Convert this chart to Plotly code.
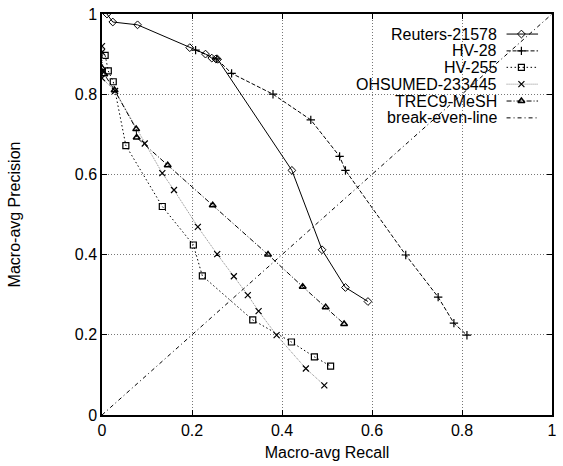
import plotly.graph_objects as go

# Macro-averaged precision/recall points per collection
reuters_recall = [0.011, 0.024, 0.079, 0.195, 0.230, 0.244, 0.253, 0.257, 0.422, 0.489, 0.541, 0.591]
reuters_prec = [1.000, 0.980, 0.973, 0.916, 0.900, 0.890, 0.888, 0.887, 0.610, 0.412, 0.318, 0.283]

hv28_recall = [0.208, 0.255, 0.288, 0.380, 0.464, 0.528, 0.541, 0.675, 0.747, 0.782, 0.811]
hv28_prec = [0.910, 0.888, 0.852, 0.800, 0.736, 0.645, 0.610, 0.399, 0.294, 0.229, 0.199]

hv255_recall = [0.007, 0.014, 0.025, 0.053, 0.134, 0.203, 0.223, 0.335, 0.421, 0.472, 0.508]
hv255_prec = [0.897, 0.858, 0.831, 0.672, 0.520, 0.424, 0.347, 0.237, 0.182, 0.145, 0.122]

ohsumed_recall = [0.000, 0.000, 0.002, 0.000, 0.029, 0.095, 0.134, 0.160, 0.213, 0.256, 0.293, 0.324, 0.348, 0.388, 0.453, 0.494]
ohsumed_prec = [0.920, 0.905, 0.857, 0.840, 0.808, 0.677, 0.603, 0.561, 0.469, 0.401, 0.346, 0.299, 0.259, 0.199, 0.116, 0.074]

trec9_recall = [0.000, 0.005, 0.028, 0.076, 0.077, 0.146, 0.246, 0.369, 0.446, 0.497, 0.538]
trec9_prec = [0.865, 0.850, 0.810, 0.713, 0.692, 0.623, 0.523, 0.400, 0.320, 0.269, 0.227]

break_even = [0.0, 1.0]

tick_vals = [0, 0.2, 0.4, 0.6, 0.8, 1]
tick_text = ["0", "0.2", "0.4", "0.6", "0.8", "1"]

FONT = "Liberation Sans, Arial, sans-serif"

series = [
    ("Reuters-21578", reuters_recall, reuters_prec,
     dict(color="black", width=1, dash="solid"),
     dict(symbol="diamond-open", size=6, color="black", line=dict(width=1, color="black"))),
    ("HV-28", hv28_recall, hv28_prec,
     dict(color="black", width=1, dash="4px,2px"),
     dict(symbol="cross-thin-open", size=6, color="black", line=dict(width=1.2, color="black"))),
    ("HV-255", hv255_recall, hv255_prec,
     dict(color="black", width=1, dash="1.5px,2.5px"),
     dict(symbol="square-open", size=6, color="black", line=dict(width=1.2, color="black"))),
    ("OHSUMED-233445", ohsumed_recall, ohsumed_prec,
     dict(color="#8a8a8a", width=1, dash="1px,1px"),
     dict(symbol="x-thin-open", size=6, color="black", line=dict(width=1.2, color="black"))),
    ("TREC9-MeSH", trec9_recall, trec9_prec,
     dict(color="black", width=1, dash="5px,2px,1px,2px"),
     dict(symbol="triangle-up-open", size=6, color="black", line=dict(width=1.5, color="#222"))),
]

fig = go.Figure()

# break-even diagonal
fig.add_trace(go.Scatter(x=break_even, y=break_even, mode="lines",
                         line=dict(color="black", width=1, dash="4px,3px,1px,3px"),
                         showlegend=False, hoverinfo="skip"))

for name, xs, ys, ln, mk in series:
    fig.add_trace(go.Scatter(x=xs, y=ys, mode="lines+markers", name=name,
                             line=ln, marker=mk, showlegend=False))

# Legend: right-aligned labels with line samples to their right
legend_names = [s[0] for s in series] + ["break-even-line"]
legend_lines = [s[3] for s in series] + [dict(color="black", width=1, dash="4px,3px,1px,3px")]
legend_marks = [s[4] for s in series] + [None]
row_y = [0.950, 0.908, 0.867, 0.825, 0.783, 0.741]
for name, ln, mk, yy in zip(legend_names, legend_lines, legend_marks, row_y):
    fig.add_trace(go.Scatter(x=[0.899, 0.969], y=[yy, yy], mode="lines", line=ln,
                             xaxis="x2", yaxis="y2", showlegend=False, hoverinfo="skip"))
    if mk is not None:
        fig.add_trace(go.Scatter(x=[0.932], y=[yy], mode="markers", marker=mk,
                                 xaxis="x2", yaxis="y2", showlegend=False, hoverinfo="skip"))
    fig.add_annotation(x=0.883, y=yy, xref="x2", yref="y2", text=name, showarrow=False,
                       xanchor="right", yanchor="middle",
                       font=dict(family=FONT, size=16, color="black"))

axis_common = dict(
    range=[0, 1], tickvals=tick_vals, ticktext=tick_text,
    showgrid=True, gridcolor="#777", griddash="1px,2px", gridwidth=1,
    zeroline=False, showline=True, linecolor="black", linewidth=1.5, mirror="ticks",
    ticks="inside", ticklen=5, tickcolor="black",
    tickfont=dict(family=FONT, size=16, color="black"),
)

fig.update_layout(
    width=563, height=466,
    margin=dict(l=102, r=6, t=12, b=51),
    paper_bgcolor="white", plot_bgcolor="white",
    xaxis=dict(**axis_common,
               title=dict(text="Macro-avg Recall", standoff=9,
                          font=dict(family=FONT, size=16, color="black"))),
    yaxis=dict(**axis_common,
               title=dict(text="Macro-avg Precision", standoff=50,
                          font=dict(family=FONT, size=16, color="black"))),
    xaxis2=dict(range=[0, 1], domain=[0, 1], overlaying="x", visible=False),
    yaxis2=dict(range=[0, 1], domain=[0, 1], overlaying="y", visible=False),
    showlegend=False,
)

fig.write_html("out.html")
